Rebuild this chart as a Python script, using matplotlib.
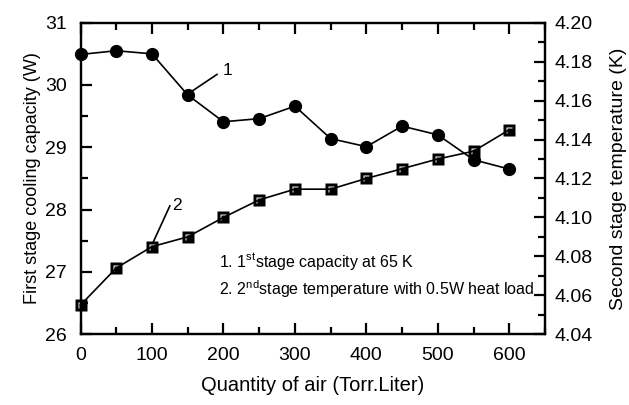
import matplotlib
matplotlib.use("Agg")
import matplotlib.pyplot as plt
from matplotlib.path import Path
from matplotlib.ticker import MultipleLocator, FormatStrFormatter

plt.rcParams['font.family'] = ['Liberation Sans', 'DejaVu Sans']
plt.rcParams['mathtext.fontset'] = 'custom'
plt.rcParams['mathtext.rm'] = 'Liberation Sans'

# Quantity of air admitted (Torr.Liter)
air = [0, 50, 100, 150, 200, 250, 300, 350, 400, 450, 500, 550, 600]
# First stage cooling capacity at 65 K (W)
capacity = [30.49, 30.55, 30.50, 29.84, 29.41, 29.46, 29.66, 29.14, 29.01, 29.34, 29.20, 28.80, 28.65]
# Second stage temperature with 0.5 W heat load (K)
temperature = [4.055, 4.074, 4.085, 4.090, 4.100, 4.109, 4.1145, 4.1145, 4.120, 4.125, 4.130, 4.134, 4.145]

legend_lines = [r"1. 1$^{\rm st}$stage capacity at 65 K",
                r"2. 2$^{\rm nd}$stage temperature with 0.5W heat load"]

# Black square with a thin white corner bracket inside
outer = [(-1, -1), (1, -1), (1, 1), (-1, 1), (-1, -1)]
hole = [(-0.6, -0.55), (-0.6, 0.6), (0.55, 0.6), (0.55, 0.4), (-0.4, 0.4), (-0.4, -0.55), (-0.6, -0.55)]
codes = [Path.MOVETO] + [Path.LINETO] * 3 + [Path.CLOSEPOLY]
hole_codes = [Path.MOVETO] + [Path.LINETO] * 5 + [Path.CLOSEPOLY]
square_marker = Path(outer + hole, codes + hole_codes)

fig = plt.figure(figsize=(6.29, 4.05), dpi=100)
ax = fig.add_axes([0.128, 0.1747, 0.7385, 0.7693])
ax2 = ax.twinx()

ax.plot(air, capacity, color='black', lw=1.2, marker='o', ms=8.5,
        mfc='black', mec='black', clip_on=False, zorder=3)
ax2.plot(air, temperature, color='black', lw=1.2, marker=square_marker, ms=8,
         mfc='black', mec='none', clip_on=False, zorder=3)

ax.set_xlim(0, 650)
ax.set_ylim(26, 31)
ax2.set_ylim(4.04, 4.20)

ax.xaxis.set_major_locator(MultipleLocator(100))
ax.xaxis.set_minor_locator(MultipleLocator(50))
ax.yaxis.set_major_locator(MultipleLocator(1))
ax.yaxis.set_minor_locator(MultipleLocator(0.5))
ax2.yaxis.set_major_locator(MultipleLocator(0.02))
ax2.yaxis.set_minor_locator(MultipleLocator(0.01))
ax2.yaxis.set_major_formatter(FormatStrFormatter('%.2f'))

for a in (ax, ax2):
    for s in a.spines.values():
        s.set_linewidth(1.6)

ax.tick_params(axis='x', which='both', direction='in', top=True, bottom=True,
               labelsize=14, pad=9)
ax.tick_params(axis='y', which='both', direction='in', right=False, labelsize=14, pad=10)
ax.tick_params(which='major', length=8, width=1.6)
ax.tick_params(which='minor', length=5, width=1.6)
ax2.tick_params(axis='y', which='both', direction='in', labelsize=14, pad=7)
ax2.tick_params(which='major', length=8, width=1.6)
ax2.tick_params(which='minor', length=5, width=1.6)

ax.set_xlabel('Quantity of air (Torr.Liter)', fontsize=14.5, labelpad=9)
ax.set_ylabel('First stage cooling capacity (W)', fontsize=13, labelpad=3)
ax2.set_ylabel('Second stage temperature (K)', fontsize=14, labelpad=12)

# Curve labels with leader lines
ax.plot([152, 191], [29.87, 30.17], color='black', lw=1.2)
ax.text(205, 30.24, '1', fontsize=12.5, va='center', ha='center')
ax.plot([101, 125], [27.46, 28.06], color='black', lw=1.2)
ax.text(135.5, 28.07, '2', fontsize=12.5, va='center', ha='center')

ax.text(193.8, 27.16, legend_lines[0], fontsize=11.5, va='center', ha='left')
ax.text(193.8, 26.73, legend_lines[1], fontsize=11.5, va='center', ha='left')

fig.savefig('out.png', dpi=100)
